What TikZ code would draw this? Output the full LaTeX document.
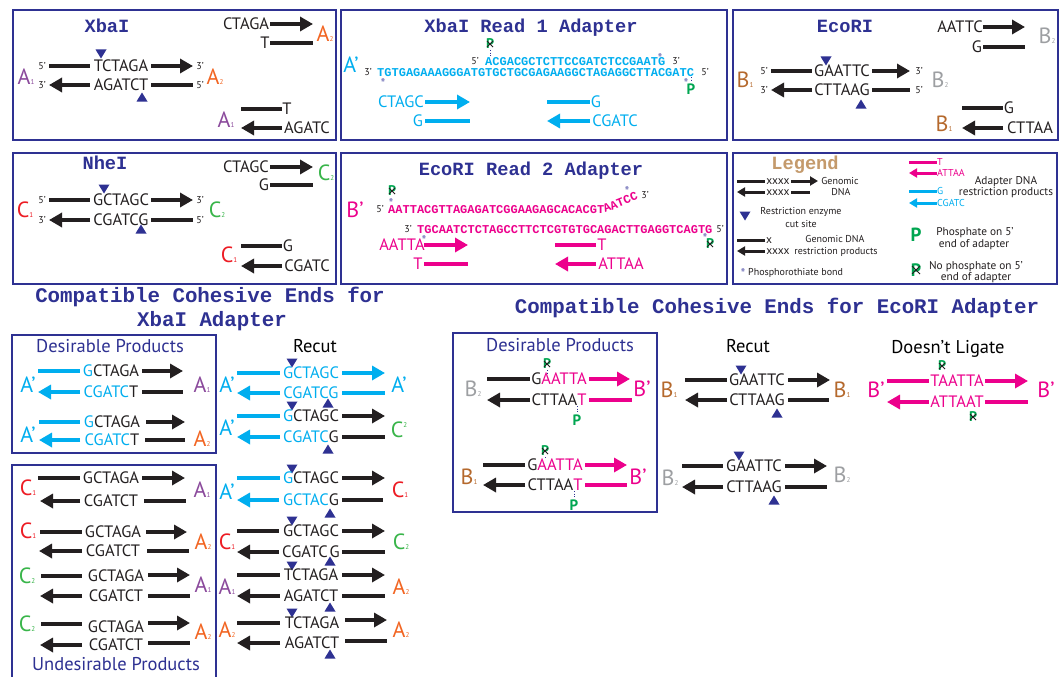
\documentclass[tikz,border=0pt]{standalone}
\usepackage{fontspec}
\setmainfont{PT Sans}
\newfontfamily\monof{Liberation Mono}
\usetikzlibrary{arrows.meta}
\definecolor{navy}{HTML}{2E3192}
\definecolor{blk}{HTML}{231F20}
\definecolor{cy}{HTML}{00AEEF}
\definecolor{mg}{HTML}{EC008C}
\definecolor{purp}{HTML}{8B4A9C}
\definecolor{orng}{HTML}{F26522}
\definecolor{cred}{HTML}{ED1C24}
\definecolor{grn}{HTML}{39B54A}
\definecolor{brn}{HTML}{B5692D}
\definecolor{gry}{HTML}{9D9FA2}
\definecolor{pg}{HTML}{00A651}
\definecolor{tanc}{HTML}{C49A6C}
\definecolor{starc}{HTML}{7070B8}
\newcounter{nd}
\newcommand\tx[4][seq]{\stepcounter{nd}\node[#1] (n\arabic{nd}) at (#2,#3) {#4};}
\newcommand\lab[5]{\stepcounter{nd}\node[lab,text=#3] (n\arabic{nd}) at (#1,#2) {#4{\fontsize{7}{7}\selectfont#5}};}
\newcommand\dnaR[4][blk]{\draw[arr,#1] (#2,#4) -- (#3,#4);}
\newcommand\dnaL[4][blk]{\draw[arr,#1] (#3,#4) -- (#2,#4);}
\newcommand\dnaB[4][blk]{\draw[strand,#1] (#2,#4) -- (#3,#4);}
\newcommand\tdn[2]{\fill[navy] (#1-5.5,#2-4.5) -- (#1+5.5,#2-4.5) -- (#1,#2+4.5) -- cycle;}
\newcommand\tup[2]{\fill[navy] (#1-5.5,#2+4.5) -- (#1+5.5,#2+4.5) -- (#1,#2-4.5) -- cycle;}
\newcommand\xP[4]{\stepcounter{nd}\node[font=\bfseries\fontsize{#3}{#3}\selectfont,text=pg] (n\arabic{nd}) at (#1,#2) {P};\draw[blk,line width=0.8pt] (#1-#4,#2-#4) -- (#1+#4,#2+#4) (#1-#4,#2+#4) -- (#1+#4,#2-#4);}
\newcommand\gP[3]{\stepcounter{nd}\node[font=\bfseries\fontsize{#3}{#3}\selectfont,text=pg] (n\arabic{nd}) at (#1,#2) {P};}
\newcommand\st[2]{\tx[font=\fontsize{14}{14}\selectfont,text=starc]{#1}{#2+3}{*}}
\newcommand\dotl[3]{\draw[navy,dotted,line width=0.7pt] (#1,#2) -- (#1,#3);}
\begin{document}
\begin{tikzpicture}[x=1pt,y=-1pt,
 every node/.style={inner sep=0pt,text depth=0pt},
 seq/.style={font=\fontsize{16.5}{17}\selectfont,text=blk},
 lab/.style={font=\fontsize{22}{22}\selectfont},
 pr/.style={font=\fontsize{10}{10}\selectfont,text=blk},
 ttl/.style={font=\monof\bfseries\fontsize{18.7}{19}\selectfont,text=navy},
 bttl/.style={font=\monof\bfseries\fontsize{20.8}{21}\selectfont,text=navy},
 ad/.style={font=\monof\bfseries\fontsize{12}{12}\selectfont,anchor=west},
 hd/.style={font=\fontsize{18.5}{19}\selectfont},
 lg/.style={font=\fontsize{10}{10}\selectfont,text=blk},
 lgb/.style={font=\fontsize{11.3}{12}\selectfont,text=blk},
 boxc/.style={draw=navy,line width=1.2pt},
 strand/.style={line width=4.6pt},
 arr/.style={strand,-{Triangle[length=13pt,width=14pt]}},
 lstrand/.style={line width=3pt},
 larr/.style={lstrand,-{Triangle[length=8pt,width=9pt]}}]
\fill[white] (0,0) rectangle (1063,677);
\useasboundingbox (0,0) rectangle (1063,677);
% boxes
\draw[boxc] (13,10) rectangle (336,140);
\draw[boxc] (341,10) rectangle (727,140);
\draw[boxc] (733,10) rectangle (1058,140);
\draw[boxc] (13,153) rectangle (336,284);
\draw[boxc] (341,153) rectangle (727,284);
\draw[boxc] (733,153) rectangle (1057,284);
\draw[boxc] (12,335) rectangle (216,453);
\draw[boxc] (12,690) -- (12,465) -- (216,465) -- (216,690);
\draw[boxc] (453,333) rectangle (657,512);
% ---------- XbaI
\tx[ttl]{107}{26}{XbaI}
\tx{246}{24}{CTAGA} \dnaR{270}{313}{24}
\tx{265}{43}{T} \dnaB{270}{313}{43}
\lab{325}{34}{orng}{A}{2}
\tx[pr]{42}{66}{5’} \dnaB{49}{90}{66} \tx{121}{66}{TCTAGA} \dnaR{151}{193}{66} \tx[pr]{200}{66}{3’}
\tx[pr]{42}{85}{3’} \dnaL{49}{90}{85} \tx{121}{85}{AGATCT} \dnaB{151}{193}{85} \tx[pr]{200}{85}{5’}
\tdn{101}{54} \tup{142}{97}
\lab{26}{77}{purp}{A}{1} \lab{215}{77}{orng}{A}{2}
\dnaB{241}{282}{109} \tx{287}{109}{T}
\dnaL{241}{282}{128} \tx{307}{128}{AGATC}
\lab{226}{120}{purp}{A}{1}
% ---------- XbaI Read 1 Adapter
\tx[ttl]{531}{26}{XbaI Read 1 Adapter}
\lab{351}{65}{cy}{A’}{}
\tx[pr]{475}{61}{5’}
\tx[ad,text=cy]{485}{61}{ACGACGCTCTTCCGATCTCCGAATG}
\tx[pr]{676}{61}{3’}
\tx[pr]{368}{72}{3’}
\tx[ad,text=cy]{377}{72}{TGTGAGAAAGGGATGTGCTGCGAGAAGGCTAGAGGCTTACGATC}
\tx[pr]{705}{72}{5’}
\st{660}{55} \st{383}{80} \st{686}{80}
\xP{490}{44}{14}{3} \dotl{490}{50}{56}
\gP{691}{89}{15} \dotl{691}{77}{82}
\tx[seq,text=cy]{401}{102}{CTAGC} \dnaR[cy]{425}{470}{102}
\tx[seq,text=cy]{418}{121}{G} \dnaB[cy]{425}{470}{121}
\dnaB[cy]{547}{590}{102} \tx[seq,text=cy]{596}{102}{G}
\dnaL[cy]{547}{590}{121} \tx[seq,text=cy]{615}{121}{CGATC}
% ---------- EcoRI
\tx[ttl]{845}{26}{EcoRI}
\tx{960}{27}{AATTC} \dnaR{983}{1025}{27}
\tx{977}{47}{G} \dnaB{983}{1025}{47}
\lab{1047}{36}{gry}{B}{2}
\tx[pr]{764}{71}{5’} \dnaB{771}{812}{71} \tx{842}{71}{GAATTC} \dnaR{872}{910}{71} \tx[pr]{919}{71}{3’}
\tx[pr]{764}{90}{3’} \dnaL{771}{812}{90} \tx{842}{90}{CTTAAG} \dnaB{872}{910}{90} \tx[pr]{919}{90}{5’}
\tdn{826}{61} \tup{861}{104}
\lab{745}{80}{brn}{B}{1} \lab{940}{80}{gry}{B}{2}
\dnaB{962}{1003}{108} \tx{1009}{108}{G}
\dnaL{962}{1003}{128} \tx{1030}{128}{CTTAA}
\lab{944}{124}{brn}{B}{1}
% ---------- NheI
\tx[ttl]{105}{163}{NheI}
\tx{246}{167}{CTAGC} \dnaR{270}{313}{167}
\tx{264}{185}{G} \dnaB{270}{313}{185}
\lab{326}{173}{grn}{C}{2}
\tx[pr]{42}{200}{5’} \dnaB{49}{90}{200} \tx{121}{200}{GCTAGC} \dnaR{151}{193}{200} \tx[pr]{200}{200}{3’}
\tx[pr]{42}{220}{3’} \dnaL{49}{90}{220} \tx{121}{220}{CGATCG} \dnaB{151}{193}{220} \tx[pr]{200}{220}{5’}
\tdn{104}{189} \tup{141}{229}
\lab{25}{210}{cred}{C}{1} \lab{217}{210}{grn}{C}{2}
\dnaB{241}{282}{246} \tx{288}{246}{G}
\dnaL{241}{282}{266} \tx{307}{266}{CGATC}
\lab{229}{255}{cred}{C}{1}
% ---------- EcoRI Read 2 Adapter
\tx[ttl]{531}{169}{EcoRI Read 2 Adapter}
\lab{355}{210}{mg}{B’}{}
\tx[pr]{380}{209}{5’}
\tx[ad,text=mg]{388}{209}{AATTACGTTAGAGATCGGAAGAGCACACGT}
\stepcounter{nd}\node[ad,text=mg,anchor=south west,rotate=22] (n\arabic{nd}) at (605,213) {AATCC};
\tx[pr]{645}{195}{3’}
\tx[pr]{408}{229}{3’}
\tx[ad,text=mg]{417}{229}{TGCAATCTCTAGCCTTCTCGTGTGCAGACTTGAGGTCAGTG}
\tx[pr]{720}{229}{5’}
\st{391}{200} \st{627}{188} \st{424}{237} \st{705}{235}
\xP{392}{191}{14}{3} \xP{710}{244}{14}{3}
\tx[seq,text=mg]{402}{245}{AATTA} \dnaR[mg]{424}{468}{245}
\tx[seq,text=mg]{418}{264}{T} \dnaB[mg]{424}{468}{264}
\dnaB[mg]{555}{596}{245} \tx[seq,text=mg]{602}{245}{T}
\dnaL[mg]{555}{596}{264} \tx[seq,text=mg]{621}{264}{ATTAA}
% ---------- Legend
\tx[ttl,text=tanc]{805}{163}{Legend}
\draw[lstrand,blk] (737,181) -- (765,181); \tx[lg,font=\fontsize{11.5}{12}\selectfont]{778}{182}{xxxx} \draw[larr,blk] (791,181) -- (818,181); \tx[lg]{840}{181}{Genomic}
\draw[larr,blk] (765,192) -- (737,192); \tx[lg,font=\fontsize{11.5}{12}\selectfont]{778}{193}{xxxx} \draw[lstrand,blk] (791,192) -- (810,192); \tx[lg]{841}{192}{DNA}
\tdn{745}{216}
\tx[lg]{801}{211}{Restriction enzyme} \tx[lg]{801}{224}{cut site}
\draw[lstrand,blk] (737,240) -- (765,240); \tx[lg,font=\fontsize{11.5}{12}\selectfont]{769}{241}{x}
\draw[larr,blk] (765,251) -- (737,251); \tx[lg,font=\fontsize{11.5}{12}\selectfont]{778}{252}{xxxx}
\tx[lg]{835}{239}{Genomic DNA} \tx[lg]{836}{251}{restriction products}
\st{743}{270} \tx[lg,anchor=west]{748}{272}{Phosphorothiate bond}
\draw[lstrand,mg] (909,162) -- (937,162); \tx[lg,text=mg,anchor=west]{937}{162}{T}
\draw[larr,mg] (937,173) -- (909,173); \tx[lg,text=mg,anchor=west]{937}{173}{ATTAA}
\draw[lstrand,cy] (909,191) -- (937,191); \tx[lg,text=cy,anchor=west]{937}{191}{G}
\draw[larr,cy] (937,203) -- (909,203); \tx[lg,text=cy,anchor=west]{937}{203}{CGATC}
\tx[lgb]{1006}{180}{Adapter DNA} \tx[lgb]{1006}{191}{restriction products}
\gP{916}{235}{19}
\tx[lgb]{975}{231}{Phosphate on 5’} \tx[lgb]{974}{244}{end of adapter}
\xP{916}{270}{18}{4}
\tx[lgb]{976}{265}{No phosphate on 5’} \tx[lgb]{976}{277}{end of adapter}
% ---------- Compatible XbaI
\tx[bttl]{210}{295}{Compatible Cohesive Ends for}
\tx[bttl]{212}{319}{XbaI Adapter}
\tx[hd,text=navy]{110}{346}{Desirable Products}
\dnaB[cy]{38}{80}{371} \tx{111}{371}{{\color{cy}G}CTAGA} \dnaR{142}{183}{371}
\dnaL[cy]{38}{80}{392} \tx{111}{392}{{\color{cy}CGATC}T} \dnaB{142}{183}{392}
\lab{28}{385}{cy}{A’}{} \lab{202}{385}{purp}{A}{1}
\dnaB[cy]{39}{80}{422} \tx{112}{422}{{\color{cy}G}CTAGA} \dnaR{146}{185}{422}
\dnaL[cy]{39}{80}{440} \tx{112}{440}{{\color{cy}CGATC}T} \dnaB{145}{185}{440}
\lab{28}{435}{cy}{A’}{} \lab{202}{439}{orng}{A}{2}
% undesirable
\dnaB{38}{80}{478} \tx{111}{478}{GCTAGA} \dnaR{142}{185}{478}
\dnaL{40}{80}{501} \tx{111}{501}{CGATCT} \dnaB{144}{186}{501}
\lab{28}{488}{cred}{C}{1} \lab{202}{490}{purp}{A}{1}
\dnaB{40}{82}{532} \tx{113}{532}{GCTAGA} \dnaR{146}{187}{532}
\dnaL{39}{82}{551} \tx{113}{551}{CGATCT} \dnaB{147}{189}{551}
\lab{28}{531}{cred}{C}{1} \lab{203}{542}{orng}{A}{2}
\dnaB{41}{82}{576} \tx{116}{576}{GCTAGA} \dnaR{148}{190}{575}
\dnaL{40}{82}{596} \tx{116}{596}{CGATCT} \dnaB{148}{190}{596}
\lab{27}{576}{grn}{C}{2} \lab{203}{585}{purp}{A}{1}
\dnaB{41}{82}{624} \tx{116}{627}{GCTAGA} \dnaR{148}{190}{623}
\dnaL{40}{82}{645} \tx{116}{645}{CGATCT} \dnaB{148}{190}{643}
\lab{27}{624}{grn}{C}{2} \lab{203}{632}{orng}{A}{2}
\tx[hd,text=navy]{116}{664}{Undesirable Products}
% recut XbaI
\tx[hd]{315}{346}{Recut}
\tdn{292}{363}
\dnaB[cy]{237}{280}{373} \tx[seq,text=cy]{311}{373}{GCTAGC} \dnaR[cy]{342}{385}{373}
\dnaL[cy]{237}{280}{393} \tx[seq,text=cy]{311}{393}{CGATCG} \dnaB[cy]{342}{385}{393}
\tup{328}{403}
\lab{227}{385}{cy}{A’}{} \lab{399}{385}{cy}{A’}{}
\tdn{292}{406}
\dnaB[cy]{237}{280}{416} \tx{311}{416}{{\color{cy}G}CTAGC} \dnaR{342}{385}{416}
\dnaL[cy]{237}{280}{437} \tx{311}{437}{{\color{cy}CGATC}G} \dnaB{342}{385}{437}
\tup{328}{449}
\lab{227}{428}{cy}{A’}{}
\stepcounter{nd}\node[lab,text=grn] (n\arabic{nd}) at (399,430) {C\raisebox{10pt}{\fontsize{7}{7}\selectfont 2}};
\tdn{292}{469}
\dnaB[cy]{237}{280}{478} \tx{311}{478}{{\color{cy}G}CTAGC} \dnaR{342}{385}{478}
\dnaL[cy]{237}{279}{500} \tx{311}{500}{{\color{cy}GCTAC}G} \dnaB{342}{383}{500}
\tup{330}{513}
\lab{227}{492}{cy}{A’}{} \lab{400}{490}{cred}{C}{1}
\tdn{292}{521}
\dnaB{237}{279}{531} \tx{311}{531}{GCTAGC} \dnaR{342}{385}{531}
\dnaL{237}{279}{552} \tx{311}{552}{CGATC\hspace{2pt}G} \dnaB{342}{385}{552}
\tup{330}{561}
\lab{227}{542}{cred}{C}{1} \lab{401}{542}{grn}{C}{2}
\tdn{292}{566}
\dnaB{237}{280}{575} \tx{311}{575}{TCTAGA} \dnaR{342}{385}{575}
\dnaL{237}{280}{596} \tx{311}{596}{AGATCT} \dnaB{342}{385}{596}
\tup{330}{607}
\lab{227}{587}{purp}{A}{1} \lab{401}{587}{orng}{A}{2}
\tdn{292}{613}
\dnaB{237}{280}{623} \tx{312}{623}{TCTAGA} \dnaR{345}{387}{620}
\dnaL{237}{280}{643} \tx{312}{643}{AGATCT} \dnaB{345}{387}{641}
\tup{330}{654}
\lab{227}{630}{orng}{A}{2} \lab{401}{630}{orng}{A}{2}
% ---------- Compatible EcoRI
\tx[bttl]{777}{306}{Compatible Cohesive Ends for EcoRI Adapter}
\tx[hd,text=navy]{560}{345}{Desirable Products}
\dnaB{487}{530}{379} \tx{559}{379}{G{\color{mg}AATTA}} \dnaR[mg]{589}{630}{379}
\dnaL{487}{530}{400} \tx{559}{400}{CTTAA{\color{mg}T}} \dnaB[mg]{589}{632}{400}
\lab{473}{389}{gry}{B}{2} \lab{642}{389}{mg}{B’}{}
\xP{547}{364}{14}{3} \dotl{547}{370}{373}
\gP{577}{420}{15} \dotl{577}{406}{413}
\dnaB{483}{525}{465} \tx{555}{465}{G{\color{mg}AATTA}} \dnaR[mg]{585}{627}{465}
\dnaL{483}{525}{485} \tx{555}{485}{CTTAA{\color{mg}T}} \dnaB[mg]{585}{627}{485}
\lab{469}{477}{brn}{B}{1} \lab{638}{477}{mg}{B’}{}
\xP{545}{451}{14}{3} \dotl{545}{457}{459}
\gP{574}{505}{15} \dotl{574}{491}{498}
% recut EcoRI
\tx[hd]{748}{346}{Recut}
\tdn{741}{370}
\dnaB{685}{727}{380} \tx{757}{380}{GAATTC} \dnaR{788}{830}{380}
\dnaL{685}{727}{400} \tx{757}{400}{CTTAAG} \dnaB{788}{829}{400}
\tup{777}{413}
\lab{669}{390}{brn}{B}{1} \lab{842}{390}{brn}{B}{1}
\tdn{739}{456}
\dnaB{682}{723}{466} \tx{754}{466}{GAATTC} \dnaR{785}{827}{466}
\dnaL{682}{723}{487} \tx{754}{487}{CTTAAG} \dnaB{785}{827}{487}
\tup{774}{500}
\lab{670}{478}{gry}{B}{2} \lab{842}{475}{gry}{B}{2}
% doesn't ligate
\tx[hd]{948}{347}{Doesn’t Ligate}
\dnaB[mg]{887}{929}{381} \tx[seq,text=mg]{957}{381}{TAATTA} \dnaR[mg]{985}{1028}{381}
\dnaL[mg]{887}{929}{402} \tx[seq,text=mg]{957}{402}{ATTAAT} \dnaB[mg]{985}{1028}{402}
\lab{876}{390}{mg}{B’}{} \lab{1046}{390}{mg}{B’}{}
\xP{942}{366}{14}{3} \xP{973}{417}{14}{3}
\end{tikzpicture}
\end{document}
